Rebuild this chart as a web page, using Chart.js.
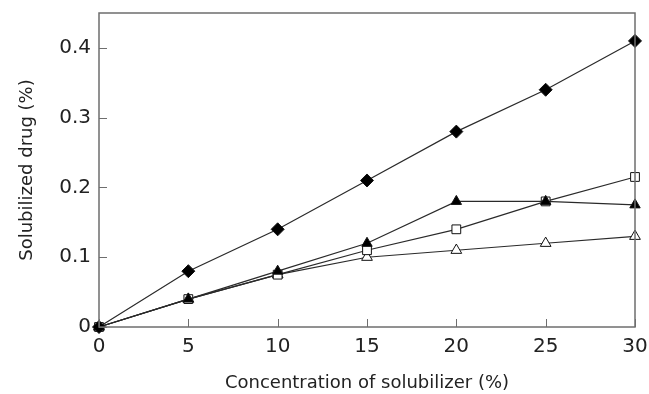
<!DOCTYPE html>
<html>
<head>
<meta charset="utf-8">
<script src="https://cdn.jsdelivr.net/npm/chart.js@4.4.0/dist/chart.umd.min.js"></script>
<style>
html,body{margin:0;padding:0;background:#fff;}
#wrap{width:649px;height:394px;position:relative;}
</style>
</head>
<body>
<div id="wrap"><canvas id="c" width="649" height="394"></canvas></div>
<script>
const concentrations = [0, 5, 10, 15, 20, 25, 30];
const filledDiamond = [0, 0.08, 0.14, 0.21, 0.28, 0.34, 0.41];
const filledTriangle = [0, 0.04, 0.08, 0.12, 0.18, 0.18, 0.175];
const openSquare = [0, 0.04, 0.075, 0.11, 0.14, 0.18, 0.215];
const openTriangle = [0, 0.04, 0.075, 0.10, 0.11, 0.12, 0.13];
const xTicks = [0, 5, 10, 15, 20, 25, 30];
const yTicks = [0, 0.1, 0.2, 0.3, 0.4];

const FONT = '"DejaVu Sans", sans-serif';
const AXIS = '#6e6e6e';
const LINE = '#2a2a2a';

function pts(vals){ return concentrations.map((x,i)=>({x:x, y:vals[i]})); }

function ds(label, vals, style, radius, fill){
  return {
    label: label, data: pts(vals),
    borderColor: LINE, borderWidth: 1.2,
    pointStyle: style, pointRadius: radius,
    pointBackgroundColor: fill, pointBorderColor: '#111', pointBorderWidth: 1,
    clip: false, tension: 0
  };
}

const framePlugin = {
  id: 'frame',
  afterDraw(chart){
    const {ctx, chartArea: a, scales: {x, y}} = chart;
    ctx.save();
    ctx.strokeStyle = AXIS;
    ctx.lineWidth = 1.5;
    ctx.strokeRect(a.left, a.top, a.right - a.left, a.bottom - a.top);
    ctx.lineWidth = 1;
    ctx.beginPath();
    xTicks.forEach(v => { const px = Math.round(x.getPixelForValue(v)) + 0.5; ctx.moveTo(px, a.bottom); ctx.lineTo(px, a.bottom - 8); });
    yTicks.forEach(v => { const py = Math.round(y.getPixelForValue(v)) + 0.5; ctx.moveTo(a.left, py); ctx.lineTo(a.left + 8, py); });
    ctx.stroke();
    ctx.restore();
  }
};

new Chart(document.getElementById('c'), {
  type: 'line',
  data: {
    datasets: [
      ds('Filled diamond', filledDiamond, 'rectRot', 6.5, '#000'),
      ds('Filled triangle', filledTriangle, 'triangle', 6, '#000'),
      ds('Open square', openSquare, 'rect', 6.2, '#fff'),
      ds('Open triangle', openTriangle, 'triangle', 6.2, '#fff')
    ]
  },
  options: {
    responsive: false,
    animation: false,
    layout: { padding: { top: 13, right: 14, left: 0, bottom: 0 } },
    plugins: { legend: { display: false }, tooltip: { enabled: false } },
    scales: {
      x: {
        type: 'linear', min: 0, max: 30,
        afterBuildTicks: s => { s.ticks = xTicks.map(v => ({value: v})); },
        afterFit: s => { s.height = 67; s.paddingLeft = 0; s.paddingRight = 0; },
        grid: { display: false, drawTicks: false },
        border: { display: false },
        ticks: { color: '#222', font: { family: FONT, size: 20 }, padding: 8, maxRotation: 0,
                 callback: v => String(v) },
        title: { display: true, text: 'Concentration of solubilizer (%)', color: '#222',
                 font: { family: FONT, size: 18 }, padding: { top: 0, bottom: 0 } }
      },
      y: {
        type: 'linear', min: 0, max: 0.45,
        afterBuildTicks: s => { s.ticks = yTicks.map(v => ({value: v})); },
        afterFit: s => { s.width = 99; s.paddingTop = 0; s.paddingBottom = 0; },
        grid: { display: false, drawTicks: false },
        border: { display: false },
        ticks: { color: '#222', font: { family: FONT, size: 20 }, padding: 8,
                 callback: v => (v === 0 ? '0' : v.toFixed(1)) },
        title: { display: true, text: 'Solubilized drug (%)', color: '#222',
                 font: { family: FONT, size: 18 }, padding: { top: 17, bottom: 0 } }
      }
    }
  },
  plugins: [framePlugin]
});
</script>
</body>
</html>
